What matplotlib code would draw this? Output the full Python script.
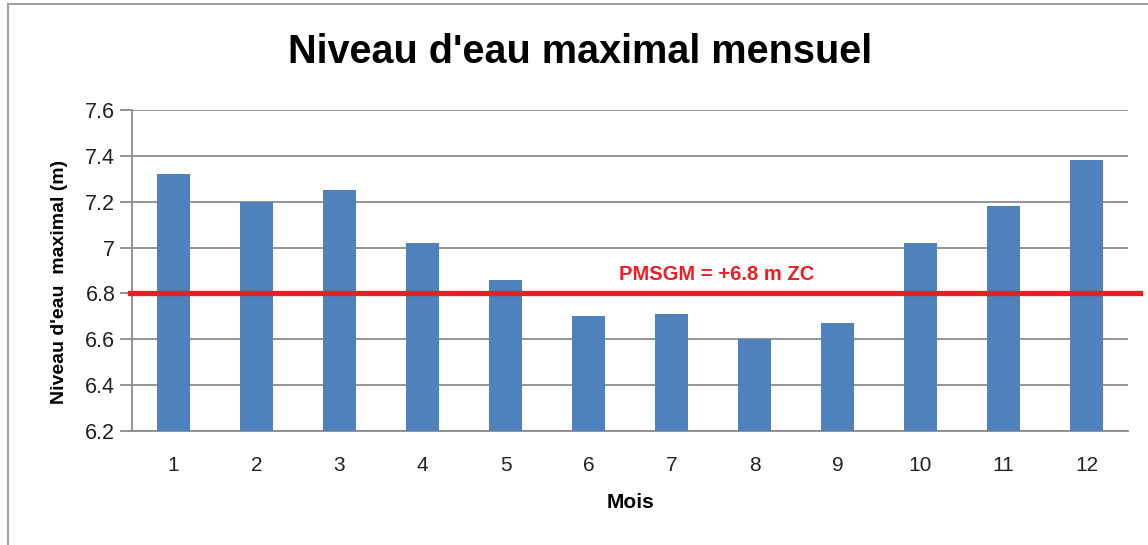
import matplotlib.pyplot as plt
from matplotlib.patches import Rectangle

# Maximum monthly water level (m)
mois = [1, 2, 3, 4, 5, 6, 7, 8, 9, 10, 11, 12]
niveau_max = [7.32, 7.20, 7.25, 7.02, 6.86, 6.70, 6.71, 6.60, 6.67, 7.02, 7.18, 7.38]
pmsgm = 6.8
y_ticks = [6.2, 6.4, 6.6, 6.8, 7.0, 7.2, 7.4, 7.6]
y_tick_labels = ['6.2', '6.4', '6.6', '6.8', '7', '7.2', '7.4', '7.6']

plt.rcParams['font.family'] = ['Liberation Sans', 'DejaVu Sans']

fig = plt.figure(figsize=(11.48, 5.45), dpi=100)

# outer chart frame
fig.patches.append(Rectangle((8 / 1148, -0.1), 1.2, 1.1 - 4 / 545,
                             transform=fig.transFigure, fill=False,
                             edgecolor='#a0a0a0', linewidth=1.5))

ax = fig.add_axes([132 / 1148, 1 - 431 / 545, 996 / 1148, 321 / 545])

ax.bar(mois, niveau_max, width=0.4, color='#4f81bd', zorder=3)
ax.axhline(pmsgm, xmin=-0.002, xmax=1.012, color='#ee1c25', linewidth=3.8,
           clip_on=False, zorder=4)
ax.text(7.54, pmsgm + 0.04, 'PMSGM = +6.8 m ZC', color='#ee1c25',
        fontsize=14.5, fontweight='bold', ha='center', va='bottom', zorder=5)

ax.set_xlim(0.5, 12.5)
ax.set_ylim(6.2, 7.6)
ax.set_yticks(y_ticks)
ax.set_yticklabels(y_tick_labels, fontsize=15.5, color='#222222')
ax.set_xticks(mois)
ax.set_xticklabels([str(m) for m in mois], fontsize=15, color='#222222')
ax.tick_params(axis='x', length=0, pad=18)
ax.tick_params(axis='y', length=9, width=1.3, color='#8c8c8c', pad=3)

ax.grid(axis='y', color='#8c8c8c', linewidth=1.3, zorder=0)
for side in ['top', 'right']:
    ax.spines[side].set_visible(False)
for side in ['left', 'bottom']:
    ax.spines[side].set_color('#8c8c8c')
    ax.spines[side].set_linewidth(1.3)

ax.set_xlabel('Mois', fontsize=15, fontweight='bold', labelpad=13)
ax.set_ylabel("Niveau d'eau  maximal (m)", fontsize=14, fontweight='bold')
ax.yaxis.set_label_coords(-0.064, 0.465)

fig.text(580 / 1148, 1 - 52 / 545, "Niveau d'eau maximal mensuel",
         fontsize=28.5, fontweight='bold', ha='center', va='center')

fig.savefig('out.png', dpi=100, facecolor='white')
